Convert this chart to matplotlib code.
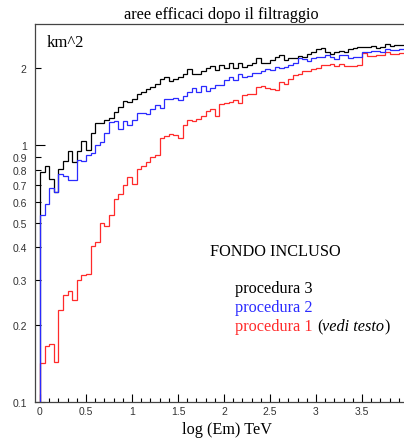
import numpy as np
import matplotlib
matplotlib.use("Agg")
import matplotlib.pyplot as plt

edges = np.round(np.arange(0, 4.0001, 0.05), 2)

proc3 = [0.79, 0.83, 0.74, 0.66, 0.81, 0.87, 0.95, 0.86, 0.95, 1.04,
         0.96, 1.12, 1.22, 1.22, 1.25, 1.28, 1.35, 1.41, 1.49, 1.47,
         1.51, 1.59, 1.62, 1.655, 1.69, 1.74, 1.81, 1.85, 1.78, 1.82,
         1.85, 1.90, 1.98, 1.90, 1.90, 1.94, 2.01, 2.04, 1.97, 2.05,
         2.00, 2.10, 2.00, 2.10, 2.02, 2.06, 2.10, 2.18, 2.10, 2.10,
         2.15, 2.20, 2.25, 2.15, 2.18, 2.18, 2.22, 2.20, 2.27, 2.30,
         2.37, 2.39, 2.32, 2.27, 2.32, 2.34, 2.32, 2.37, 2.39, 2.41,
         2.41, 2.42, 2.44, 2.39, 2.41, 2.48, 2.44, 2.46, 2.46, 2.45]

proc2 = [0.536, 0.59, 0.68, 0.66, 0.775, 0.76, 0.736, 0.736, 0.88, 0.87,
         0.92, 0.93, 1.00, 1.03, 1.12, 1.23, 1.24, 1.16, 1.24, 1.20,
         1.25, 1.34, 1.34, 1.33, 1.39, 1.43, 1.40, 1.52, 1.51, 1.53,
         1.50, 1.55, 1.62, 1.67, 1.62, 1.71, 1.63, 1.67, 1.72, 1.72,
         1.80, 1.85, 1.80, 1.89, 1.85, 1.86, 1.92, 1.92, 1.95, 1.98,
         1.97, 2.02, 2.00, 2.02, 2.05, 2.10, 2.18, 2.16, 2.14, 2.18,
         2.21, 2.21, 2.25, 2.21, 2.16, 2.25, 2.25, 2.18, 2.20, 2.20,
         2.32, 2.32, 2.34, 2.34, 2.32, 2.37, 2.36, 2.36, 2.38, 2.38]

proc1 = [0.142, 0.166, 0.168, 0.143, 0.229, 0.261, 0.271, 0.25, 0.30, 0.313,
         0.315, 0.407, 0.42, 0.50, 0.487, 0.533, 0.62, 0.647, 0.70, 0.75,
         0.705, 0.81, 0.83, 0.86, 0.90, 0.92, 1.07, 1.09, 1.11, 1.10,
         1.07, 1.20, 1.25, 1.24, 1.27, 1.30, 1.36, 1.39, 1.30, 1.45,
         1.46, 1.48, 1.50, 1.46, 1.57, 1.58, 1.59, 1.69, 1.70, 1.68,
         1.665, 1.65, 1.77, 1.74, 1.82, 1.88, 1.90, 1.95, 1.95, 1.98,
         2.00, 2.05, 2.05, 2.08, 2.03, 2.08, 2.03, 2.03, 2.04, 2.05,
         2.28, 2.22, 2.22, 2.25, 2.25, 2.32, 2.26, 2.27, 2.28, 2.28]

xticks = [0, 0.5, 1, 1.5, 2, 2.5, 3, 3.5]
xticklabels = ["0", "0.5", "1", "1.5", "2", "2.5", "3", "3.5"]
ymajor = [0.1, 1]
ymajor_labels = ["0.1", "1"]
yminor = [0.2, 0.3, 0.4, 0.5, 0.6, 0.7, 0.8, 0.9, 2]
yminor_labels = ["0.2", "0.3", "0.4", "0.5", "0.6", "0.7", "0.8", "0.9", "2"]

serif = ["Liberation Serif", "DejaVu Serif"]
sans = ["Liberation Sans", "DejaVu Sans"]

W, H = 404, 439
fig = plt.figure(figsize=(W / 100, H / 100), dpi=100)
left_px, right_px, top_px, bot_px = 35, 408, 25, 403
ax = fig.add_axes([left_px / W, 1 - bot_px / H, (right_px - left_px) / W, (bot_px - top_px) / H])

black = "#000000"
blue = "#2a2aff"
red = "#ff2a2a"
ax.stairs(proc3, edges, baseline=0.01, color=black, lw=0.9, zorder=2)
ax.stairs(proc1, edges, baseline=0.01, color=red, lw=0.9, zorder=2.1)
ax.stairs(proc2, edges, baseline=0.01, color=blue, lw=0.9, zorder=2.2)

ax.set_yscale("log")
ax.set_xlim(-0.054, 4.0)
ax.set_ylim(0.1, 2.97)

ax.set_yticks(ymajor, ymajor_labels)
ax.set_yticks(yminor, yminor_labels, minor=True)
ax.set_xticks(xticks, xticklabels)
ax.set_xticks(np.round(np.arange(0, 4.0001, 0.1), 1), minor=True)

for lab in ax.get_xticklabels() + ax.get_yticklabels() + ax.get_yticklabels(minor=True):
    lab.set_family(sans)
    lab.set_fontsize(7.5)
    lab.set_color("#333333")

ax.tick_params(axis="both", which="both", direction="in", top=False, right=False)
ax.tick_params(axis="y", which="major", length=7.5, width=0.8, pad=6)
ax.tick_params(axis="y", which="minor", length=4.5, width=0.8, pad=6)
ax.tick_params(axis="x", which="major", length=6, width=0.8, pad=3)
ax.tick_params(axis="x", which="minor", length=3, width=0.8)
for s in ax.spines.values():
    s.set_linewidth(0.9)
    s.set_color("#444444")

fs = 11.7
fig.text((left_px + right_px) / 2 / W, 1 - 15 / H, "aree efficaci dopo il filtraggio",
         ha="center", va="center", family=serif, fontsize=fs)
fig.text(47 / W, 1 - 43 / H, "km^2", ha="left", va="center", family=serif, fontsize=12)
fig.text(227 / W, 1 - 430 / H, "log (Em) TeV", ha="center", va="center", family=serif, fontsize=fs)

fig.text(210 / W, 1 - 252 / H, "FONDO INCLUSO", ha="left", va="center", family=serif, fontsize=fs)
fig.text(235 / W, 1 - 289 / H, "procedura 3", ha="left", va="center", family=serif, fontsize=fs, color=black)
fig.text(235 / W, 1 - 308 / H, "procedura 2", ha="left", va="center", family=serif, fontsize=fs, color=blue)
t1 = fig.text(235 / W, 1 - 327 / H, "procedura 1 ", ha="left", va="center", family=serif, fontsize=fs, color=red)
t2 = ax.annotate("(", xy=(1, 0), xycoords=t1, ha="left", va="bottom", family=serif, fontsize=fs, color=black)
t3 = ax.annotate("vedi testo", xy=(1, 0), xycoords=t2, ha="left", va="bottom", family=serif, fontsize=fs,
                 style="italic", color=black)
ax.annotate(")", xy=(1, 0), xycoords=t3, ha="left", va="bottom", family=serif, fontsize=fs, color=black)

fig.savefig("out.png", dpi=100)
